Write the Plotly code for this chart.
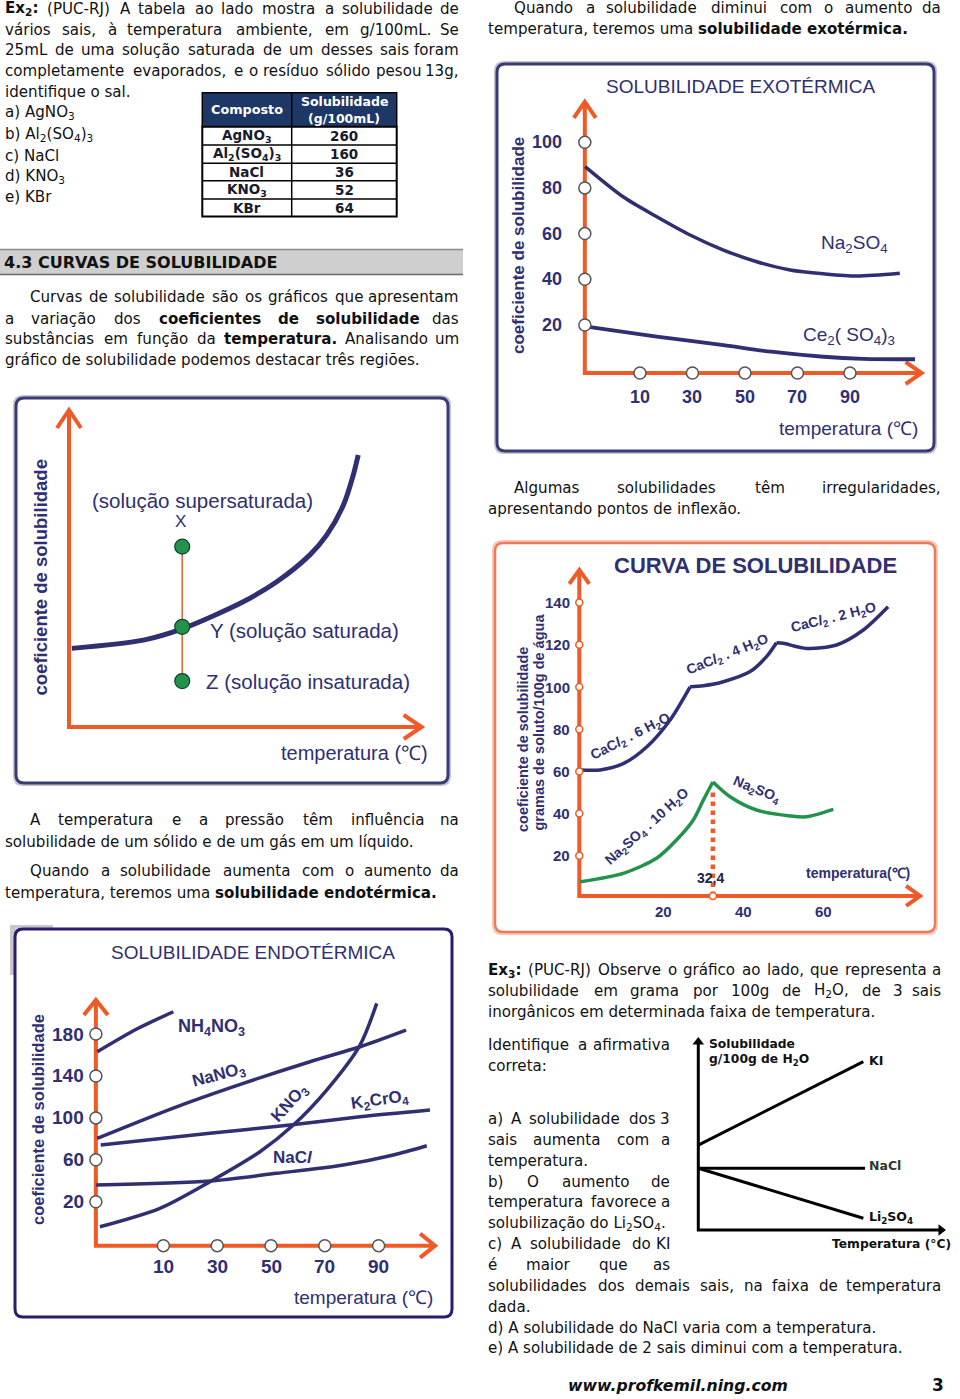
import re
import unicodedata
import plotly.graph_objects as go

W, H = 960, 1399
NAVY = "#2f2f72"
ORANGE = "#ef5a26"
GREEN = "#22924c"
BODY_FONT = "DejaVu Sans"
CHART_FONT = "Liberation Sans, Arial, sans-serif"
BODY_SIZE = 15.1

# ---------------- data ----------------
# Ex2 table
table_header = ["Composto", "Solubilidade", "(g/100mL)"]
table_compounds = ["AgNO<sub>3</sub>", "Al<sub>2</sub>(SO<sub>4</sub>)<sub>3</sub>", "NaCl", "KNO<sub>3</sub>", "KBr"]
table_solubility = [260, 160, 36, 52, 64]

# Solubilidade exotérmica
exo_ticks_x = [10, 30, 50, 70, 90]
exo_ticks_y = [20, 40, 60, 80, 100]
exo_na2so4_t = [-10.9, 3.7, 16.4, 29.1, 41.8, 54.5, 67.2, 79.9, 92.6, 109]
exo_na2so4_s = [89.3, 76.0, 67.4, 59.4, 52.8, 47.7, 44.1, 42.4, 41.4, 42.6]
exo_ce2so43_t = [-10.3, 16.4, 41.8, 60, 79.9, 95, 114.8]
exo_ce2so43_s = [19.3, 14.9, 11.2, 8.3, 6.1, 5.2, 5.0]

# Regiões (saturada / supersaturada / insaturada)
sat_curve_t = [0.8, 21.1, 32.4, 49.4, 58.9, 68.3, 73.1, 77.8, 80.6, 82.0]
sat_curve_s = [24.8, 27.4, 31.1, 39.5, 45.8, 54.3, 60.6, 70.0, 79.5, 85.8]
sat_points_t = [32.1, 32.1, 32.1]
sat_points_s = [56.9, 31.6, 14.5]

# Curva de solubilidade (CaCl2 / Na2SO4)
curva_ticks_x = [20, 40, 60]
curva_ticks_y = [20, 40, 60, 80, 100, 120, 140]
cacl2_6h2o_t = [-0.8, 4.2, 10.1, 15.9, 21.7, 26.7]
cacl2_6h2o_s = [60.7, 60.7, 63.8, 71.7, 84.4, 100.1]
cacl2_4h2o_t = [26.7, 30, 35, 41.7, 45.8, 48.3]
cacl2_4h2o_s = [100.1, 100.6, 102.5, 107.3, 114.4, 121]
cacl2_2h2o_t = [48.3, 50, 55.8, 63.3, 70, 76.2]
cacl2_2h2o_s = [121, 120.7, 118.3, 119.9, 127, 138]
na2so4_10h2o_t = [-0.8, 10, 18.3, 23.3, 27.5, 30, 32.4]
na2so4_10h2o_s = [7.7, 11.7, 18.8, 27.5, 37, 46.4, 55]
na2so4_t = [32.4, 36.7, 43.3, 51.7, 55.8, 62.5]
na2so4_s = [55, 48, 41.7, 38.9, 38.5, 42]
transition_t = 32.4
transition_s = 52

# Solubilidade endotérmica
endo_ticks_x = [10, 30, 50, 70, 90]
endo_ticks_y = [20, 60, 100, 140, 180]
nh4no3_t = [-14.6, 0.1, 13.7]
nh4no3_s = [163.1, 184.8, 201.3]
nano3_t = [-14.6, 14.9, 39.7, 64.5, 83.1, 100.2]
nano3_s = [80.5, 110.6, 133, 153.6, 167.9, 183.8]
k2cro4_t = [-13.3, 27.3, 57.1, 83.1, 109.1]
k2cro4_s = [74.1, 85.3, 93.2, 101.1, 107.5]
kno3_t = [-13.6, 8.7, 27.3, 45.9, 58.3, 70.7, 83.1, 89.3]
kno3_s = [-3.9, 13.7, 39.1, 67.7, 93.2, 126.6, 169.5, 209.3]
nacl_t = [-15, 27.3, 52.1, 76.9, 95.5, 107.9]
nacl_s = [35.9, 39.8, 47.1, 55, 64.6, 73.4]

# Ex3 (esquemático)
ex3_ki_t = [0, 66.9]
ex3_ki_s = [44.7, 88.6]
ex3_nacl_t = [0, 67.6]
ex3_nacl_s = [32.5, 32.5]
ex3_li2so4_t = [0, 66.9]
ex3_li2so4_s = [32.5, 6.2]

# Body text lines: (text, x0, x1, y, justify)
body_lines = [
    ("<b>Ex<sub>2</sub>:</b> (PUC-RJ) A tabela ao lado mostra a solubilidade de", 3, 461, 8.5, True),
    ("vários sais, à temperatura ambiente, em g/100mL. Se", 3, 461, 29.5, True),
    ("25mL de uma solução saturada de um desses sais foram", 3, 461, 50.5, True),
    ("completamente evaporados, e o resíduo sólido pesou 13g,", 3, 461, 71.5, True),
    ("identifique o sal.", 3, 461, 92, False),
    ("a) AgNO<sub>3</sub>", 3, 461, 113, False),
    ("b) Al<sub>2</sub>(SO<sub>4</sub>)<sub>3</sub>", 3, 461, 134.5, False),
    ("c) NaCl", 3, 461, 155.5, False),
    ("d) KNO<sub>3</sub>", 3, 461, 176.5, False),
    ("e) KBr", 3, 461, 197, False),
    ("Curvas de solubilidade são os gráficos que apresentam", 27.7, 461, 297.5, True),
    ("a variação dos <b>coeficientes</b> <b>de</b> <b>solubilidade</b> das", 3, 461, 318.5, True),
    ("substâncias em função da <b>temperatura.</b> Analisando um", 3, 461, 339.2, True),
    ("gráfico de solubilidade podemos destacar três regiões.", 3, 461, 360, False),
    ("A temperatura e a pressão têm influência na", 28, 461, 820, True),
    ("solubilidade de um sólido e de um gás em um líquido.", 3, 461, 841.7, False),
    ("Quando a solubilidade aumenta com o aumento da", 28, 461, 870.5, True),
    ("temperatura, teremos uma <b>solubilidade endotérmica.</b>", 3, 461, 892.5, False),
    ("Quando a solubilidade diminui com o aumento da", 511.7, 943, 8, True),
    ("temperatura, teremos uma <b>solubilidade exotérmica.</b>", 486, 943, 28.5, False),
    ("Algumas solubilidades têm irregularidades,", 511.7, 943, 488.3, True),
    ("apresentando pontos de inflexão.", 486, 943, 509.3, False),
    ("<b>Ex<sub>3</sub>:</b> (PUC-RJ) Observe o gráfico ao lado, que representa a", 486, 943, 970, True),
    ("solubilidade em grama por 100g de H<sub>2</sub>O, de 3 sais", 486, 943, 990.7, True),
    ("inorgânicos em determinada faixa de temperatura.", 486, 943, 1011.7, False),
    ("Identifique a afirmativa", 486, 672, 1045, True),
    ("correta:", 486, 672, 1066, False),
    ("a) A solubilidade dos 3", 486, 672, 1119, True),
    ("sais aumenta com a", 486, 672, 1140, True),
    ("temperatura.", 486, 672, 1161, False),
    ("b) O aumento de", 486, 672, 1181.5, True),
    ("temperatura favorece a", 486, 672, 1202, True),
    ("solubilização do Li<sub>2</sub>SO<sub>4</sub>.", 486, 672, 1223, False),
    ("c) A solubilidade do KI", 486, 672, 1244, True),
    ("é maior que as", 486, 672, 1264.5, True),
    ("solubilidades dos demais sais, na faixa de temperatura", 486, 943, 1285.5, True),
    ("dada.", 486, 943, 1306.5, False),
    ("d) A solubilidade do NaCl varia com a temperatura.", 486, 943, 1327.5, False),
    ("e) A solubilidade de 2 sais diminui com a temperatura.", 486, 943, 1348.3, False),
]

# ---------------- helpers ----------------
WIDTHS = dict(zip("abcdefghijklmnopqrstuvwxyz",
                  [1255, 1300, 1126, 1300, 1260, 721, 1300, 1298, 569, 569, 1186, 569, 1995,
                   1298, 1253, 1300, 1300, 842, 1067, 803, 1298, 1212, 1675, 1212, 1212, 1075]))
WIDTHS.update(dict(zip("ABCDEFGHIJKLMNOPQRSTUVWXYZ",
                       [1401, 1405, 1430, 1577, 1294, 1178, 1587, 1540, 604, 604, 1343, 1141, 1767,
                        1532, 1612, 1235, 1612, 1423, 1300, 1251, 1499, 1401, 2025, 1403, 1251, 1403])))
WIDTHS.update({d: 1303 for d in "0123456789"})
WIDTHS.update({" ": 651, ".": 651, ",": 651, ":": 690, ";": 690, "(": 799, ")": 799,
               "-": 739, "/": 690, "°": 1024})


def text_width(s, size):
    w = 0.0
    sub = False
    bold = False
    for tok in re.split(r"(<[^>]+>)", s):
        if tok.startswith("<"):
            t = tok.lower()
            if t == "<sub>":
                sub = True
            elif t == "</sub>":
                sub = False
            elif t == "<b>":
                bold = True
            elif t == "</b>":
                bold = False
            continue
        for ch in tok:
            base = unicodedata.normalize("NFD", ch)[0]
            cw = WIDTHS.get(base, 1200)
            if bold:
                cw *= 1.1
            w += cw / 2048 * size * (0.7 if sub else 1.0)
    return w * 1.03


annotations = []
shapes = []


def X(p):
    return p / W


def Y(p):
    return 1 - p / H


def note(text, px, py, xanchor="center", size=BODY_SIZE, color="#111", family=BODY_FONT, angle=0):
    annotations.append(dict(x=X(px), y=Y(py), xref="paper", yref="paper", text=text,
                            showarrow=False, xanchor=xanchor, yanchor="middle", textangle=angle,
                            font=dict(size=size, color=color, family=family)))


def body_line(text, x0, x1, y, justify):
    if not justify:
        note(text, x0, y, "left")
        return
    words = text.split(" ")
    size = BODY_SIZE
    widths = [text_width(w, size) for w in words]
    gap = (x1 - x0 - sum(widths)) / (len(words) - 1)
    if gap < 0.3 * size:
        size = size * (x1 - x0 - 0.3 * BODY_SIZE * (len(words) - 1)) / sum(widths)
        widths = [text_width(w, size) for w in words]
        gap = (x1 - x0 - sum(widths)) / (len(words) - 1)
    x = x0
    for i, (w, wd) in enumerate(zip(words, widths)):
        if i == len(words) - 1:
            note(w, x1, y, "right", size=size)
        else:
            note(w, x, y, "left", size=size)
        x += wd + gap


def rounded_box(x0, y0, x1, y1, r, color, width, fill="white", layer="below"):
    p = (f"M {X(x0 + r)},{Y(y0)} L {X(x1 - r)},{Y(y0)} Q {X(x1)},{Y(y0)} {X(x1)},{Y(y0 + r)} "
         f"L {X(x1)},{Y(y1 - r)} Q {X(x1)},{Y(y1)} {X(x1 - r)},{Y(y1)} "
         f"L {X(x0 + r)},{Y(y1)} Q {X(x0)},{Y(y1)} {X(x0)},{Y(y1 - r)} "
         f"L {X(x0)},{Y(y0 + r)} Q {X(x0)},{Y(y0)} {X(x0 + r)},{Y(y0)} Z")
    shapes.append(dict(type="path", path=p, xref="paper", yref="paper",
                       line=dict(color=color, width=width), fillcolor=fill, layer=layer))


layout_axes = {}
scales = {}


def set_axes(n, xpix, ypix, xmap, ymap):
    a, b = xmap
    c, d = ymap
    s = "" if n == 1 else str(n)
    layout_axes["xaxis" + s] = dict(domain=[xpix[0] / W, xpix[1] / W],
                                    range=[(xpix[0] - a) / b, (xpix[1] - a) / b],
                                    visible=False, fixedrange=True, anchor="y" + s)
    layout_axes["yaxis" + s] = dict(domain=[1 - ypix[1] / H, 1 - ypix[0] / H],
                                    range=[(c - ypix[1]) / d, (c - ypix[0]) / d],
                                    visible=False, fixedrange=True, anchor="x" + s)
    scales["x" + s] = (b, d)
    return "x" + s, "y" + s


fig = go.Figure()


def line(ax, xs, ys, color, width, shape="spline", dash="solid"):
    fig.add_trace(go.Scatter(x=xs, y=ys, xaxis=ax[0], yaxis=ax[1], mode="lines",
                             line=dict(color=color, width=width, shape=shape, dash=dash,
                                       smoothing=0.8 if shape == "spline" else None),
                             hoverinfo="skip", showlegend=False, cliponaxis=False))


def orange_axes(ax, xo, yo, xtip, ytip, width=4, arm=11, back=16, color=ORANGE):
    xb, yb = scales[ax[0]]
    line(ax, [xo, xo, xtip], [ytip, yo, yo], color, width, shape="linear")
    line(ax, [xo - arm / xb, xo, xo + arm / xb], [ytip - back / yb, ytip, ytip - back / yb], color, width, "linear")
    line(ax, [xtip - back / xb, xtip, xtip - back / xb], [yo + arm / yb, yo, yo - arm / yb], color, width, "linear")


def circles(ax, xs, ys, size=12, edge="#555", fill="white", lw=1.5, symbol="circle"):
    fig.add_trace(go.Scatter(x=xs, y=ys, xaxis=ax[0], yaxis=ax[1], mode="markers",
                             marker=dict(symbol=symbol, size=size, color=fill,
                                         line=dict(color=edge, width=lw)),
                             hoverinfo="skip", showlegend=False, cliponaxis=False))


def tick_label(ax, x, y, text, xanchor="center", xshift=0, yshift=0, size=19, bold=True, color=NAVY):
    annotations.append(dict(x=x, y=y, xref=ax[0], yref=ax[1], text=f"<b>{text}</b>" if bold else text,
                            showarrow=False, xanchor=xanchor, yanchor="middle",
                            xshift=xshift, yshift=yshift,
                            font=dict(size=size, color=color, family=CHART_FONT)))


# ---------------- page text ----------------
for t, x0, x1, y, j in body_lines:
    body_line(t, x0, x1, y, j)

# section heading bar
shapes.append(dict(type="rect", xref="paper", yref="paper", x0=X(0), x1=X(463), y0=Y(274.5), y1=Y(249),
                   fillcolor="#cfcfcf", line=dict(width=0), layer="below"))
shapes.append(dict(type="line", xref="paper", yref="paper", x0=X(0), x1=X(463), y0=Y(249.5), y1=Y(249.5),
                   line=dict(color="#8a8a8a", width=1.5)))
shapes.append(dict(type="line", xref="paper", yref="paper", x0=X(0), x1=X(463), y0=Y(274.5), y1=Y(274.5),
                   line=dict(color="#6a6a6a", width=1.5)))
note("<b>4.3 CURVAS DE SOLUBILIDADE</b>", 2, 262.5, "left", size=16)

# footer
note("<b><i>www.profkemil.ning.com</i></b>", 678, 1385, "center", size=15.7)
note("<b>3</b>", 938, 1385, "center", size=17)

# ---------------- table (Ex2) ----------------
TBL_X = [202.3, 291.7, 396.7]
TBL_Y = [92.7, 126.7, 145, 163.3, 180.7, 199, 216.5]
shapes.append(dict(type="rect", xref="paper", yref="paper", x0=X(TBL_X[0]), x1=X(TBL_X[2]),
                   y0=Y(TBL_Y[1]), y1=Y(TBL_Y[0]), fillcolor="#1d3867", line=dict(color="black", width=1.5)))
shapes.append(dict(type="rect", xref="paper", yref="paper", x0=X(TBL_X[0]), x1=X(TBL_X[2]),
                   y0=Y(TBL_Y[-1]), y1=Y(TBL_Y[1]), fillcolor="white", line=dict(color="black", width=2)))
for yy in TBL_Y[2:-1]:
    shapes.append(dict(type="line", xref="paper", yref="paper", x0=X(TBL_X[0]), x1=X(TBL_X[2]),
                       y0=Y(yy), y1=Y(yy), line=dict(color="black", width=1.5)))
shapes.append(dict(type="line", xref="paper", yref="paper", x0=X(TBL_X[1]), x1=X(TBL_X[1]),
                   y0=Y(TBL_Y[-1]), y1=Y(TBL_Y[0]), line=dict(color="black", width=1.5)))
c1 = (TBL_X[0] + TBL_X[1]) / 2
c2 = (TBL_X[1] + TBL_X[2]) / 2
note(f"<b>{table_header[0]}</b>", c1, (TBL_Y[0] + TBL_Y[1]) / 2, size=12.8, color="white")
note(f"<b>{table_header[1]}</b>", c2, TBL_Y[0] + 9, size=12.5, color="white")
note(f"<b>{table_header[2]}</b>", c2, TBL_Y[0] + 25.5, size=12.5, color="white")
for i, (cmp, sol) in enumerate(zip(table_compounds, table_solubility)):
    yc = (TBL_Y[i + 1] + TBL_Y[i + 2]) / 2
    note(f"<b>{cmp}</b>", c1, yc, size=13.5, color="#1a1a2a")
    note(f"<b>{sol}</b>", c2, yc, size=13.5, color="#1a1a2a")

# ---------------- chart A: solubilidade exotérmica ----------------
rounded_box(495, 62, 936, 453, 9, "#c4c4cc", 2)
rounded_box(497, 64, 934, 451, 8, "#3a3a7a", 3)
axA = set_axes(1, (500, 930), (68, 448), (613.7, 2.625), (370.7, 2.285))
A_XO, A_YO, A_XT, A_YT = -11, -1, 117.3, 117.7
orange_axes(axA, A_XO, A_YO, A_XT, A_YT)
line(axA, exo_na2so4_t, exo_na2so4_s, NAVY, 3.5)
line(axA, exo_ce2so43_t, exo_ce2so43_s, NAVY, 3.8)
circles(axA, [A_XO] * len(exo_ticks_y), exo_ticks_y)
circles(axA, exo_ticks_x, [A_YO] * len(exo_ticks_x))
for v in exo_ticks_y:
    tick_label(axA, A_XO, v, str(v), "right", xshift=-21, size=18)
for v in exo_ticks_x:
    tick_label(axA, v, A_YO, str(v), yshift=-24, size=18)
note("SOLUBILIDADE EXOTÉRMICA", 741, 86, size=19, color=NAVY, family=CHART_FONT)
note("Na<sub>2</sub>SO<sub>4</sub>", 854, 244, size=19, color=NAVY, family=CHART_FONT)
note("Ce<sub>2</sub>( SO<sub>4</sub>)<sub>3</sub>", 849, 336, size=19, color=NAVY, family=CHART_FONT)
note("temperatura (℃)", 848, 428, size=19, color=NAVY, family=CHART_FONT)
note("<b>coeficiente de solubilidade</b>", 519, 246, size=17, color=NAVY, family=CHART_FONT, angle=-90)

# ---------------- chart B: regiões ----------------
rounded_box(14, 396, 450, 785, 9, "#c4c4cc", 2)
rounded_box(16, 398, 448, 783, 8, "#3a3a7a", 3)
axB = set_axes(2, (20, 445), (402, 780), (69, 3.527), (727, 3.17))
orange_axes(axB, 0, 0, 100, 100, arm=12, back=18)
line(axB, sat_curve_t, sat_curve_s, NAVY, 5)
line(axB, [sat_points_t[0], sat_points_t[-1]], [max(sat_points_s), min(sat_points_s)], "#e0602e", 1.5, "linear")
circles(axB, sat_points_t, sat_points_s, size=15, edge="#17422a", fill=GREEN, lw=1.2)
note("(solução supersaturada)", 202.5, 500, size=20.5, color=NAVY, family=CHART_FONT)
note("X", 180.7, 521.7, size=17, color=NAVY, family=CHART_FONT)
note("Y (solução saturada)", 304, 630, size=20.5, color=NAVY, family=CHART_FONT)
note("Z (solução insaturada)", 308, 681.7, size=20.5, color=NAVY, family=CHART_FONT)
note("temperatura (℃)", 354, 753, size=20, color=NAVY, family=CHART_FONT)
note("<b>coeficiente de solubilidade</b>", 40, 577.5, size=18.5, color=NAVY, family=CHART_FONT, angle=-90)

# ---------------- chart C: curva de solubilidade ----------------
rounded_box(493, 541, 937, 934, 9, "#f8c8b8", 2)
rounded_box(495, 543, 935, 932, 8, "#ef7a58", 2.5)
axC = set_axes(3, (498, 932), (546, 928), (583.3, 4.0), (898, 2.11))
C_XO, C_YO, C_XT, C_YT = -1, 1, 84.2, 155.5
orange_axes(axC, C_XO, C_YO, C_XT, C_YT, arm=10, back=14)
line(axC, [transition_t, transition_t], [C_YO, transition_s], ORANGE, 4.5, "linear", dash="dot")
line(axC, cacl2_6h2o_t, cacl2_6h2o_s, NAVY, 3.5)
line(axC, cacl2_4h2o_t, cacl2_4h2o_s, NAVY, 3.5)
line(axC, cacl2_2h2o_t, cacl2_2h2o_s, NAVY, 3.5)
line(axC, na2so4_10h2o_t, na2so4_10h2o_s, GREEN, 3.5)
line(axC, na2so4_t, na2so4_s, GREEN, 3.5)
circles(axC, [C_XO] * len(curva_ticks_y), curva_ticks_y, size=7, edge=ORANGE, lw=1.5)
circles(axC, [transition_t], [C_YO], size=7, edge=ORANGE, lw=1.5)
for v in curva_ticks_y:
    tick_label(axC, C_XO, v, str(v), "right", xshift=-7, size=15)
for v in curva_ticks_x:
    tick_label(axC, v, C_YO, str(v), yshift=-16, size=15)
note("<b>CURVA DE SOLUBILIDADE</b>", 755, 565, size=22, color=NAVY, family=CHART_FONT)
note("<b>CaC<i>l</i><sub>2</sub> . 6 H<sub>2</sub>O</b>", 630, 737, size=14, color=NAVY, family=CHART_FONT, angle=-27)
note("<b>CaC<i>l</i><sub>2</sub> . 4 H<sub>2</sub>O</b>", 727, 655, size=14, color=NAVY, family=CHART_FONT, angle=-22)
note("<b>CaC<i>l</i><sub>2</sub> . 2 H<sub>2</sub>O</b>", 833, 618, size=14, color=NAVY, family=CHART_FONT, angle=-14)
note("<b>Na<sub>2</sub>SO<sub>4</sub> . 10 H<sub>2</sub>O</b>", 647, 827, size=14, color=NAVY, family=CHART_FONT, angle=-42)
note("<b>Na<sub>2</sub>SO<sub>4</sub></b>", 757, 790, size=14, color=NAVY, family=CHART_FONT, angle=22)
note("<b>32,4</b>", 710, 878, size=14, color="#23234a", family=CHART_FONT)
note("<b>temperatura(℃)</b>", 858, 873, size=14, color=NAVY, family=CHART_FONT)
note("<b>coeficiente de solubilidade</b>", 523, 740, size=14.5, color=NAVY, family=CHART_FONT, angle=-90)
note("<b>gramas de soluto/100g de água</b>", 538.5, 722, size=14.5, color=NAVY, family=CHART_FONT, angle=-90)

# ---------------- chart D: solubilidade endotérmica ----------------
shapes.append(dict(type="rect", xref="paper", yref="paper", x0=X(10), x1=X(53), y0=Y(975), y1=Y(925),
                   fillcolor="#c8c8c8", line=dict(width=0), layer="below"))
rounded_box(15, 929, 452, 1317, 8, "#2e1a6e", 3)
axD = set_axes(4, (18, 449), (932, 1314), (136.5, 2.69), (1222.7, 1.048))
D_XO, D_YO, D_XT, D_YT = -15.1, -21.9, 111, 212.5
orange_axes(axD, D_XO, D_YO, D_XT, D_YT, arm=12, back=15)
for xs, ys in [(nh4no3_t, nh4no3_s), (nano3_t, nano3_s), (k2cro4_t, k2cro4_s),
               (kno3_t, kno3_s), (nacl_t, nacl_s)]:
    line(axD, xs, ys, NAVY, 3.5)
circles(axD, [D_XO] * len(endo_ticks_y), endo_ticks_y)
circles(axD, endo_ticks_x, [D_YO] * len(endo_ticks_x))
for v in endo_ticks_y:
    tick_label(axD, D_XO, v, str(v), "right", xshift=-10)
for v in endo_ticks_x:
    tick_label(axD, v, D_YO, str(v), yshift=-21)
note("SOLUBILIDADE ENDOTÉRMICA", 253, 953, size=19, color=NAVY, family=CHART_FONT)
note("<b>NH<sub>4</sub>NO<sub>3</sub></b>", 211, 1027, size=18, color=NAVY, family=CHART_FONT)
note("<b>NaNO<sub>3</sub></b>", 219, 1076, size=17, color=NAVY, family=CHART_FONT, angle=-15)
note("<b>KNO<sub>3</sub></b>", 290, 1104, size=17, color=NAVY, family=CHART_FONT, angle=-48)
note("<b>K<sub>2</sub>CrO<sub>4</sub></b>", 380, 1101, size=17, color=NAVY, family=CHART_FONT, angle=-8)
note("<b>NaC<i>l</i></b>", 293, 1157, size=17, color=NAVY, family=CHART_FONT)
note("temperatura (℃)", 363, 1297, size=19, color=NAVY, family=CHART_FONT)
note("<b>coeficiente de solubilidade</b>", 38, 1120, size=16.5, color=NAVY, family=CHART_FONT, angle=-90)

# ---------------- chart E: Ex3 ----------------
axE = set_axes(5, (690, 955), (1030, 1240), (698.3, 2.467), (1230, 1.9))
exb, eyb = scales[axE[0]]
line(axE, [0, 0, 100 - 4 / exb], [101 - 4 / eyb, 0, 0], "black", 3, "linear")
circles(axE, [0], [101 - 4 / eyb], size=10, edge="black", fill="black", lw=0, symbol="triangle-up")
circles(axE, [100 - 4 / exb], [0], size=10, edge="black", fill="black", lw=0, symbol="triangle-right")
line(axE, ex3_ki_t, ex3_ki_s, "black", 3, "linear")
line(axE, ex3_nacl_t, ex3_nacl_s, "black", 3, "linear")
line(axE, ex3_li2so4_t, ex3_li2so4_s, "black", 3, "linear")
note("<b>Solubilidade</b>", 707, 1043.5, "left", size=12.3)
note("<b>g/100g de H<sub>2</sub>O</b>", 707, 1060, "left", size=12.3)
note("<b>KI</b>", 867, 1060, "left", size=12.5)
note("<b>NaCl</b>", 867, 1165, "left", size=12.5, color="#2c3a2c")
note("<b>Li<sub>2</sub>SO<sub>4</sub></b>", 867, 1217, "left", size=12.5)
note("<b>Temperatura (°C)</b>", 953, 1243.5, "right", size=12.3)

fig.update_layout(width=W, height=H, margin=dict(l=0, r=0, t=0, b=0), autosize=False,
                  paper_bgcolor="white", plot_bgcolor="rgba(0,0,0,0)", showlegend=False,
                  annotations=annotations, shapes=shapes, **layout_axes)

fig.write_html("out.html", config={"displayModeBar": False},
               post_script="document.body.style.margin='0';document.body.style.overflow='hidden';")
